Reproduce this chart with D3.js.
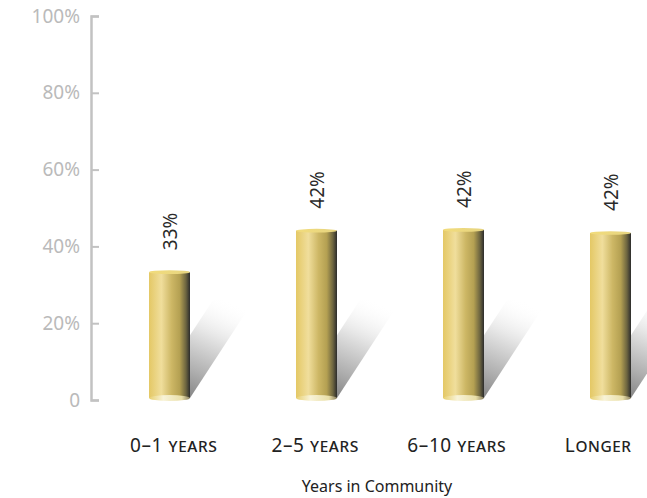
<!DOCTYPE html>
<html>
<head>
<meta charset="utf-8">
<script src="https://cdn.jsdelivr.net/npm/d3@7"></script>
<style>
	body { margin: 0; background: #fff; }
	text { font-family: "Noto Sans", "Open Sans", sans-serif; }
</style>
</head>
<body>
<div id="chart"></div>
<script>
const categories = ["0–1 years", "2–5 years", "6–10 years", "Longer"];
const barHeights = [33.3, 44.1, 44.3, 43.5];
const valueLabels = ["33%", "42%", "42%", "42%"];
const yTicks = [0, 20, 40, 60, 80, 100];

const width = 647;
const height = 498;

const svg = d3
	.select("#chart")
	.append("svg")
	.attr("width", width)
	.attr("height", height);

const yScale = d3.scaleLinear().domain([0, 100]).range([400, 16]);
const xScale = d3.scaleBand().domain(categories).range([96, 684]);
const labelScale = d3.scaleBand().domain(categories).range([103, 669]);
const barW = 41;

// gradients
const defs = svg.append("defs");
const body = defs.append("linearGradient").attr("id", "cyl");
[
	[0, "#e4c865"],
	[0.3, "#f0de9c"],
	[0.55, "#cdb765"],
	[0.75, "#b4a052"],
	[0.9, "#6d6540"],
	[1, "#2c2c2c"],
].forEach((s) => body.append("stop").attr("offset", s[0]).attr("stop-color", s[1]));

const topG = defs.append("linearGradient").attr("id", "cyltop");
[
	[0, "#f2dc7c"],
	[1, "#e6d480"],
].forEach((s) => topG.append("stop").attr("offset", s[0]).attr("stop-color", s[1]));

const botG = defs.append("linearGradient").attr("id", "cylbot");
[
	[0, "#e8d070"],
	[0.35, "#f8f3d8"],
	[0.8, "#e9dfa8"],
	[1, "#8a8060"],
].forEach((s) => botG.append("stop").attr("offset", s[0]).attr("stop-color", s[1]));

const shadowG = defs
	.append("linearGradient")
	.attr("id", "shadow")
	.attr("gradientUnits", "objectBoundingBox")
	.attr("x1", 0.25).attr("y1", 1)
	.attr("x2", 0.75).attr("y2", 0);
[
	[0, "#7c7c7c", 1],
	[0.3, "#b0b0b0", 1],
	[0.65, "#e6e6e6", 1],
	[1, "#ffffff", 0],
].forEach((s) =>
	shadowG.append("stop").attr("offset", s[0]).attr("stop-color", s[1]).attr("stop-opacity", s[2])
);

// y axis
const yAxis = svg
	.append("g")
	.attr("transform", "translate(91,0)")
	.call(
		d3.axisLeft(yScale)
			.tickValues(yTicks)
			.tickSize(-8)
			.tickPadding(11)
			.tickFormat((d) => (d === 0 ? "0" : d + "%"))
	);
yAxis.select(".domain").attr("stroke", "#c2c2c2").attr("stroke-width", 2.5);
yAxis.selectAll(".tick line").attr("stroke", "#c2c2c2").attr("stroke-width", 2);
yAxis.selectAll(".tick text")
	.attr("fill", "#bababa")
	.attr("font-size", 19)
	.attr("font-family", "Noto Sans, sans-serif");

const cx = (d) => xScale(d) + xScale.bandwidth() / 2;
const y0 = yScale(0) - 2;

// shadows
const sdx = 64, sdy = -98;
svg.selectAll(".shadow")
	.data(categories)
	.enter()
	.append("path")
	.attr("class", "shadow")
	.attr("d", (d) => {
		const l = cx(d) - barW / 2, r = cx(d) + barW / 2;
		return `M${l},${y0}L${r},${y0}L${r + sdx},${y0 + sdy}L${l + sdx},${y0 + sdy}Z`;
	})
	.attr("fill", "url(#shadow)");

// cylinders
const bars = svg.selectAll(".bar").data(categories).enter().append("g").attr("class", "bar");
bars.append("rect")
	.attr("x", (d) => cx(d) - barW / 2)
	.attr("width", barW)
	.attr("y", (d, i) => yScale(barHeights[i]))
	.attr("height", (d, i) => y0 - yScale(barHeights[i]))
	.attr("fill", "url(#cyl)");
bars.append("ellipse")
	.attr("cx", cx)
	.attr("cy", y0)
	.attr("rx", barW / 2)
	.attr("ry", 3)
	.attr("fill", "url(#cylbot)");
bars.append("ellipse")
	.attr("cx", cx)
	.attr("cy", (d, i) => yScale(barHeights[i]))
	.attr("rx", barW / 2)
	.attr("ry", 1.8)
	.attr("fill", "url(#cyltop)");

// value labels
svg.selectAll(".value")
	.data(categories)
	.enter()
	.append("text")
	.attr("class", "value")
	.attr("transform", (d, i) => `translate(${cx(d) + 7},${yScale(barHeights[i]) - 22}) rotate(-90)`)
	.attr("font-size", 19)
	.attr("fill", "#2a2a2a")
	.text((d, i) => valueLabels[i]);

// category labels
svg.selectAll(".cat")
	.data(categories)
	.enter()
	.append("text")
	.attr("class", "cat")
	.attr("x", (d) => labelScale(d) + labelScale.bandwidth() / 2)
	.attr("y", 452)
	.attr("text-anchor", "middle")
	.attr("font-size", 19)
	.attr("letter-spacing", 0.6)
	.style("font-variant", "small-caps")
	.attr("fill", "#222")
	.text((d) => d);

svg.append("text")
	.attr("x", 377)
	.attr("y", 492)
	.attr("text-anchor", "middle")
	.attr("font-size", 16)
	.attr("fill", "#222")
	.text("Years in Community");
</script>
</body>
</html>
